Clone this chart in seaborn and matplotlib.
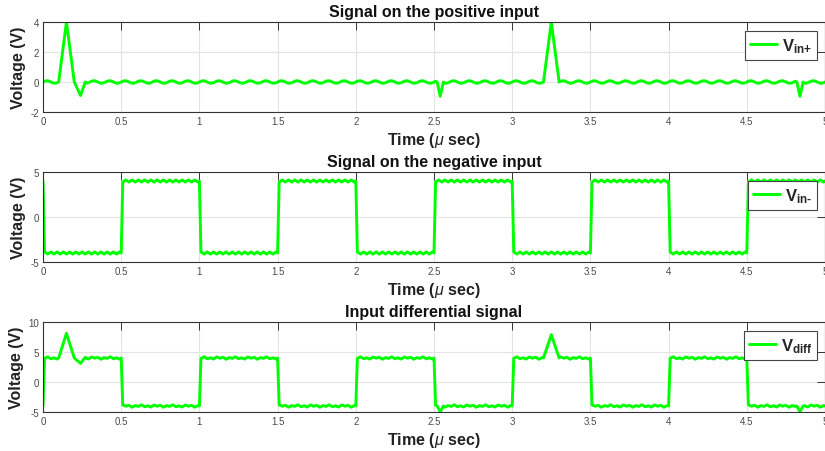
import numpy as np
import pandas as pd
import matplotlib
matplotlib.use("Agg")
import matplotlib.pyplot as plt
import seaborn as sns

# ---- sampled waveforms (time in microseconds, voltage in volts) ----
STEP_US = 0.01
DURATION_US = 5.0

# one period of the small ripple riding on each input
POS_RIPPLE_CYCLE = [0.0, 0.05, 0.08, 0.08, 0.05, 0.0, -0.05, -0.08, -0.08, -0.05]  # 0.1 us period
NEG_RIPPLE_CYCLE = [0.0, 0.12, 0.0, -0.12]                                           # 0.04 us period

# square wave on the negative input: switching instants and the level after each one
NEG_EDGES_US = [0.005, 0.505, 1.005, 1.505, 2.005, 2.505, 3.005, 3.505, 4.005, 4.505]
NEG_LEVELS = [4.0, -4.0, 4.0, -4.0, 4.0, -4.0, 4.0, -4.0, 4.0, -4.0, 4.0]

# glitches on the positive input (vertex times and values)
POS_SPIKE_TIMES = [[0.10, 0.15, 0.20, 0.24, 0.27],
                   [2.52, 2.54, 2.56],
                   [3.20, 3.25, 3.30],
                   [4.82, 4.84, 4.86]]
POS_SPIKE_VALUES = [[0.0, 4.0, 0.0, -0.9, 0.0],
                    [0.0, -0.95, 0.0],
                    [0.0, 4.0, 0.0],
                    [0.0, -0.95, 0.0]]

TITLES = ["Signal on the positive input",
          "Signal on the negative input",
          "Input differential signal"]
LEGEND_LABELS = [r"$\mathbf{V}_{\mathbf{in}\text{+}}$",
                 r"$\mathbf{V}_{\mathbf{in}\text{-}}$",
                 r"$\mathbf{V}_{\mathbf{diff}}$"]
X_TICKS = [0, 0.5, 1, 1.5, 2, 2.5, 3, 3.5, 4, 4.5, 5]
Y_TICKS = [[-2, 0, 2, 4], [-5, 0, 5], [-5, 0, 5, 10]]
Y_LIMITS = [(-2, 4), (-5, 5), (-5, 10)]

# ---- build the series ----
n = int(round(DURATION_US / STEP_US)) + 1
idx = np.arange(n)
t = idx * STEP_US

vin_pos = np.resize(np.array(POS_RIPPLE_CYCLE), n).astype(float)
keep = np.ones(n, dtype=bool)
for times, vals in zip(POS_SPIKE_TIMES, POS_SPIKE_VALUES):
    k = np.round(np.array(times) / STEP_US).astype(int)
    keep[k[0] + 1:k[-1]] = False
    keep[k] = True
    vin_pos[k] = vals

levels = np.array(NEG_LEVELS)[np.searchsorted(NEG_EDGES_US, t)]
vin_neg = levels + np.resize(np.array(NEG_RIPPLE_CYCLE), n)
vdiff = vin_pos - vin_neg

frames = [
    pd.DataFrame({"t": t[keep], "v": vin_pos[keep]}),
    pd.DataFrame({"t": t, "v": vin_neg}),
    pd.DataFrame({"t": t[keep], "v": vdiff[keep]}),
]

# ---- styling ----
sns.set_style("white")
plt.rcParams["font.family"] = ["Liberation Sans", "DejaVu Sans"]
plt.rcParams["mathtext.fontset"] = "custom"
plt.rcParams["mathtext.rm"] = "Liberation Sans:bold"
plt.rcParams["mathtext.it"] = "Liberation Sans:italic"
plt.rcParams["mathtext.bf"] = "Liberation Sans:bold"

W, H = 825, 452
fig = plt.figure(figsize=(W / 100, H / 100), dpi=100)

panel_tops = [23, 173, 323]
panel_h = 90
left_px = 43
green = (0.0, 1.0, 0.0)
axis_col = "#333333"

for i in range(3):
    top = panel_tops[i]
    ax = fig.add_axes([left_px / W, 1 - (top + panel_h) / H, (W - left_px) / W, panel_h / H])
    sns.lineplot(data=frames[i], x="t", y="v", ax=ax, color=green, linewidth=2.1,
                 estimator=None, sort=False, label=LEGEND_LABELS[i])
    ax.set_xlim(0, 5)
    ax.set_ylim(*Y_LIMITS[i])
    ax.set_xticks(X_TICKS)
    ax.set_xticklabels([f"{v:g}" for v in X_TICKS])
    ax.set_yticks(Y_TICKS[i])
    ax.set_yticklabels([f"{v:g}" for v in Y_TICKS[i]])
    ax.grid(True, color="#e3e3e3", linewidth=0.8)
    ax.set_axisbelow(True)
    for sp in ax.spines.values():
        sp.set_visible(True)
        sp.set_color(axis_col)
        sp.set_linewidth(0.8)
    ax.tick_params(direction="in", length=5.5, width=0.7, top=True, right=True,
                   labelsize=7, colors=axis_col, labelcolor="#4a4a4a", pad=3)
    ax.set_title(TITLES[i], fontsize=11.5, fontweight="bold", pad=4, color="#111111")
    ax.set_xlabel(r"Time ($\mu$ sec)", fontsize=11.5, fontweight="bold", labelpad=3, color="#222222")
    ax.set_ylabel("Voltage (V)", fontsize=11.5, fontweight="bold", labelpad=3, color="#222222")
    leg = ax.legend(loc="upper right", bbox_to_anchor=(1 - 8 / (W - left_px), 1 - 9 / panel_h),
                    borderaxespad=0, fontsize=12, handlelength=1.6, handletextpad=0.3,
                    borderpad=0.3, fancybox=False, framealpha=1, edgecolor="#444444")
    leg.get_frame().set_linewidth(0.8)

fig.savefig("out.png", dpi=100)
